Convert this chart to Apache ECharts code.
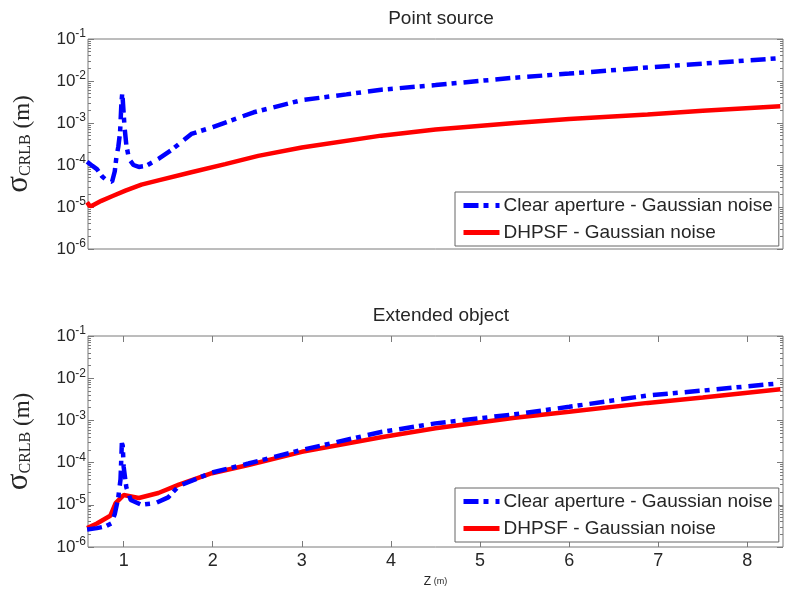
<!DOCTYPE html>
<html>
<head>
<meta charset="utf-8">
<script src="https://cdn.jsdelivr.net/npm/echarts@6/dist/echarts.min.js"></script>
<style>html,body{margin:0;padding:0;background:#fff}#c{width:787px;height:590px}</style>
</head>
<body>
<div id="c"></div>
<script>
// ---- data ----
const seriesNames = ['Clear aperture - Gaussian noise', 'DHPSF - Gaussian noise'];
const xTicks = [1, 2, 3, 4, 5, 6, 7, 8];
const yTicks = [1e-6, 1e-5, 1e-4, 1e-3, 1e-2, 1e-1];

// Point source, clear aperture
const zTopClear = [0.59, 0.65, 0.70, 0.76, 0.81, 0.87, 0.90, 0.92, 0.94, 0.96, 0.975, 0.985, 0.995, 1.01, 1.03, 1.06, 1.11, 1.17, 1.25, 1.39, 1.54, 1.76, 2.0, 2.46, 3.0, 3.5, 3.89, 4.5, 5.39, 6.0, 6.88, 7.5, 8.37];
const vTopClear = [1.2e-4, 9.5e-5, 8e-5, 5.3e-5, 4.3e-5, 4e-5, 7e-5, 1.6e-4, 2.7e-4, 6e-4, 3e-3, 5.3e-3, 2.5e-3, 8e-4, 3e-4, 1.4e-4, 1e-4, 9e-5, 9.5e-5, 1.4e-4, 2.3e-4, 5.5e-4, 8e-4, 1.8e-3, 3.5e-3, 4.8e-3, 6.2e-3, 8e-3, 1.2e-2, 1.5e-2, 2.1e-2, 2.6e-2, 3.5e-2];
// Point source, DHPSF
const zTopDh = [0.59, 0.62, 0.645, 0.75, 0.87, 1.02, 1.2, 1.39, 1.76, 2.14, 2.51, 3.0, 3.89, 4.5, 5.39, 6.0, 6.88, 7.5, 8.37];
const vTopDh = [1.3e-5, 1.05e-5, 1.07e-5, 1.4e-5, 1.8e-5, 2.45e-5, 3.4e-5, 4.3e-5, 6.7e-5, 1.05e-4, 1.65e-4, 2.6e-4, 5e-4, 7e-4, 1e-3, 1.25e-3, 1.6e-3, 1.95e-3, 2.5e-3];
// Extended object, clear aperture
const zBotClear = [0.59, 0.7, 0.8, 0.86, 0.9, 0.94, 0.965, 0.98, 0.99, 1.0, 1.03, 1.08, 1.2, 1.36, 1.5, 1.62, 1.99, 2.4, 3.0, 3.89, 4.5, 5.39, 6.0, 6.88, 7.5, 8.37];
const vBotClear = [2.6e-6, 2.8e-6, 3.1e-6, 3.6e-6, 6e-6, 1.5e-5, 4e-5, 2.9e-4, 2.5e-4, 8e-5, 2.6e-5, 1.3e-5, 1e-5, 1.1e-5, 1.5e-5, 2.8e-5, 5.8e-5, 9.5e-5, 2e-4, 5.3e-4, 8.5e-4, 1.4e-3, 2.1e-3, 3.9e-3, 5.1e-3, 7.6e-3];
// Extended object, DHPSF
const zBotDh = [0.59, 0.7, 0.85, 0.91, 1.0, 1.17, 1.39, 1.62, 1.99, 2.4, 3.0, 3.89, 4.5, 5.39, 6.0, 6.88, 7.5, 8.37];
const vBotDh = [2.8e-6, 3.6e-6, 5.5e-6, 1.1e-5, 1.7e-5, 1.45e-5, 1.9e-5, 3e-5, 5.6e-5, 8.8e-5, 1.8e-4, 4e-4, 6.5e-4, 1.15e-3, 1.6e-3, 2.6e-3, 3.5e-3, 5.5e-3];

// ---- helpers ----
const zip = (a, b) => a.map((v, i) => [v, b[i]]);
const minorTicks = [];
for (let k = -6; k <= -2; k++) for (let m = 2; m <= 9; m++) minorTicks.push(m * Math.pow(10, k));

const SANS = '"Liberation Sans", Arial, sans-serif';
const SERIF = '"Liberation Serif", "Times New Roman", serif';
const BORDER = '#7a7a7a';
const TXT = '#262626';

const grids = [
  { left: 88, top: 39, width: 695, height: 210 },
  { left: 88, top: 336, width: 695, height: 211 }
];

const xAxes = [], yAxes = [];
grids.forEach((g, gi) => {
  xAxes.push({
    type: 'value', gridIndex: gi, min: 0.6, max: 8.4, position: 'bottom',
    axisLine: { show: false }, splitLine: { show: false },
    axisTick: { show: gi === 1, inside: true, length: 6, lineStyle: { color: BORDER }, customValues: xTicks },
    axisLabel: { show: gi === 1, customValues: xTicks, color: TXT, fontSize: 18, fontFamily: SANS, margin: 5 },
    name: gi === 1 ? '{z|Z}{m| (m)}' : '', nameLocation: 'middle', nameGap: 29,
    nameTextStyle: { rich: { z: { fontSize: 12, fontFamily: SANS, color: TXT }, m: { fontSize: 9, fontFamily: SANS, color: TXT } } }
  });
  xAxes.push({
    type: 'value', gridIndex: gi, min: 0.6, max: 8.4, position: 'top',
    axisLine: { show: false }, splitLine: { show: false },
    axisTick: { show: gi === 1, inside: true, length: 6, lineStyle: { color: BORDER }, customValues: xTicks },
    axisLabel: { show: false }
  });
  ['left', 'right'].forEach(pos => {
    yAxes.push({
      type: 'log', logBase: 10, gridIndex: gi, min: 1e-6, max: 1e-1, position: pos,
      axisLine: { show: false }, splitLine: { show: false },
      axisTick: { show: true, inside: true, length: 6, lineStyle: { color: BORDER }, customValues: yTicks },
      axisLabel: pos === 'left' ? {
        show: true, customValues: yTicks, margin: 2,
        formatter: v => '{b|10}{e|' + Math.round(Math.log10(v)) + '}',
        rich: {
          b: { fontSize: 17, fontFamily: SANS, color: TXT, lineHeight: 22, verticalAlign: 'middle' },
          e: { fontSize: 12, fontFamily: SANS, color: TXT, lineHeight: 14, verticalAlign: 'top' }
        }
      } : { show: false },
      name: pos === 'left' ? '{s|σ}{c|CRLB}{m| (m)}' : '',
      nameLocation: 'middle', nameGap: 54, nameRotate: 90,
      nameTextStyle: {
        rich: {
          s: { fontSize: 31, fontFamily: SERIF, color: TXT, lineHeight: 31, verticalAlign: 'bottom' },
          c: { fontSize: 16, fontFamily: SERIF, color: TXT, lineHeight: 16, verticalAlign: 'bottom' },
          m: { fontSize: 23, fontFamily: SERIF, color: TXT, lineHeight: 26, verticalAlign: 'bottom' }
        }
      }
    });
    yAxes.push({
      type: 'log', logBase: 10, gridIndex: gi, min: 1e-6, max: 1e-1, position: pos,
      axisLine: { show: false }, splitLine: { show: false },
      axisTick: { show: true, inside: true, length: 3, lineStyle: { color: BORDER }, customValues: minorTicks },
      axisLabel: { show: false }
    });
  });
});

const clearStyle = { color: '#0000ff', width: 4.5, type: [15, 5, 5, 7], cap: 'butt' };
const dhStyle = { color: '#ff0000', width: 4.5, type: 'solid' };

function mkSeries(name, data, gi, style) {
  return {
    name, type: 'line', data, xAxisIndex: gi * 2, yAxisIndex: gi * 4,
    showSymbol: false, symbol: 'none', smooth: false, lineStyle: style,
    itemStyle: { color: style.color }, animation: false, z: name === seriesNames[1] ? 3 : 4
  };
}

const legendBase = {
  orient: 'vertical', left: 455, itemWidth: 36, itemHeight: 14, itemGap: 6,
  padding: [3, 6, 3, 6], backgroundColor: '#fff', borderColor: '#666', borderWidth: 1, borderRadius: 0,
  itemStyle: { opacity: 0 },
  lineStyle: { width: 5 },
  textStyle: { fontSize: 19, fontFamily: SANS, color: TXT, lineHeight: 21, padding: [0, 0, 0, -1] },
  data: seriesNames, selectedMode: false
};

const option = {
  backgroundColor: '#fff',
  animation: false,
  title: [
    { text: 'Point source', left: 436, top: 4, textAlign: 'center', textStyle: { fontSize: 19, fontWeight: 'normal', fontFamily: SANS, color: TXT } },
    { text: 'Extended object', left: 436, top: 301, textAlign: 'center', textStyle: { fontSize: 19, fontWeight: 'normal', fontFamily: SANS, color: TXT } }
  ],
  grid: grids.map(g => Object.assign({ show: true, borderColor: BORDER, borderWidth: 1, backgroundColor: 'transparent', containLabel: false, outerBoundsMode: 'none' }, g)),
  xAxis: xAxes,
  yAxis: yAxes,
  legend: [
    Object.assign({}, legendBase, { top: 192 }),
    Object.assign({}, legendBase, { top: 488 })
  ],
  series: [
    mkSeries(seriesNames[1], zip(zTopDh, vTopDh), 0, dhStyle),
    mkSeries(seriesNames[0], zip(zTopClear, vTopClear), 0, clearStyle),
    mkSeries(seriesNames[0], zip(zBotClear, vBotClear), 1, clearStyle),
    mkSeries(seriesNames[1], zip(zBotDh, vBotDh), 1, dhStyle)
  ]
};

const chart = echarts.init(document.getElementById('c'), null, { renderer: 'canvas' });
chart.setOption(option);
</script>
</body>
</html>
